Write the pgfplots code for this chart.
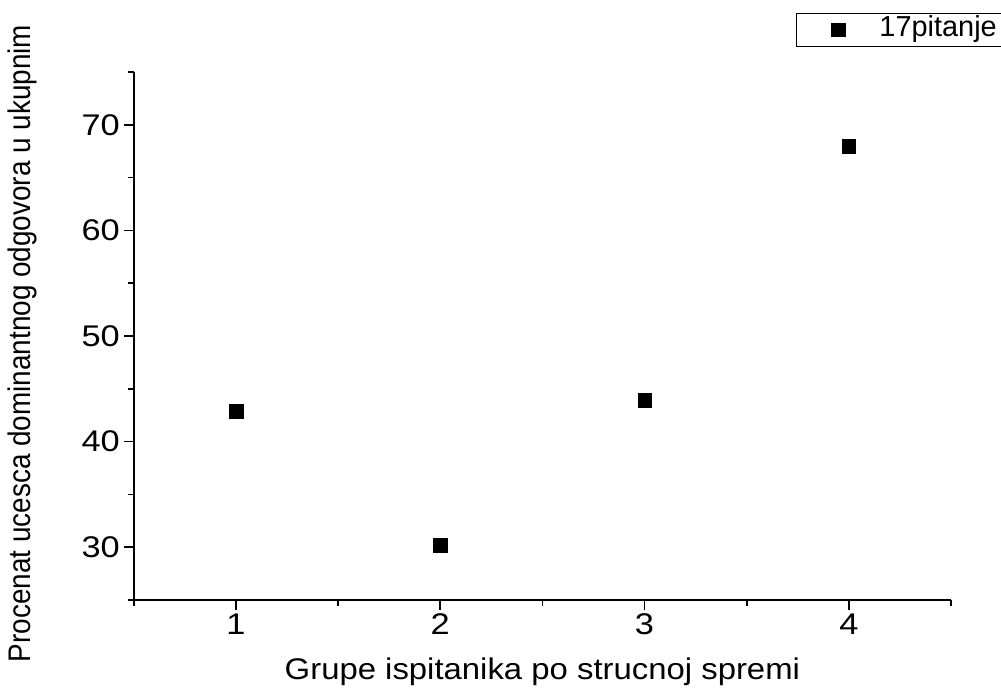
\documentclass[border=0pt]{standalone}
\usepackage{pgfplots}
\pgfplotsset{compat=1.18}
\usepackage{fontspec}
\setmainfont{Liberation Sans}
\begin{document}
\begin{tikzpicture}
\useasboundingbox (0,0) rectangle (1001bp,692bp);
\begin{axis}[
  at={(133.8bp,92bp)}, anchor=south west,
  scale only axis, width=817.2bp, height=528bp,
  xmin=0.5, xmax=4.5, ymin=25, ymax=75,
  axis x line*=bottom, axis y line*=left,
  axis line style={-, line width=1.6bp},
  xtick={1,2,3,4}, ytick={30,40,50,60,70},
  minor xtick={0.5,1.5,2.5,3.5,4.5}, minor ytick={25,35,45,55,65,75},
  tick align=outside, major tick length=10bp, minor tick length=5.5bp,
  every tick/.style={line width=1.6bp, black},
  ticklabel style={font=\fontsize{30}{36}\selectfont, xscale=1.15},
  /pgf/number format/assume math mode=true,
  xlabel={Grupe ispitanika po strucnoj spremi},
  ylabel={Procenat ucesca dominantnog odgovora u ukupnim},
  xlabel style={at={(rel axis cs:0.5,-0.1364)}, anchor=center, font=\fontsize{30}{36}\selectfont, xscale=1.1},
  ylabel style={at={(rel axis cs:-0.1368,0.4858)}, anchor=center, font=\fontsize{28}{34}\selectfont, yscale=1.12},
  legend image code/.code={\path[draw=none,fill=none] (0bp,-1bp) rectangle (83bp,1bp); \draw[#1] plot coordinates {(42bp,0bp)};},
  legend style={at={(rel axis cs:0.8103,1.1117)}, anchor=north west, draw=black, line width=1bp,
    font=\fontsize{29}{34}\selectfont, inner xsep=0bp, inner ysep=2bp,
    nodes={inner sep=0bp, text height=21bp, text depth=8bp}},
]
\addplot[only marks, mark=square*, mark size=6.8bp, black] coordinates {(1,42.9)(2,30.2)(3,43.9)(4,68.0)};
\addlegendentry{17pitanje\kern12bp\null}
\end{axis}
\end{tikzpicture}
\end{document}
